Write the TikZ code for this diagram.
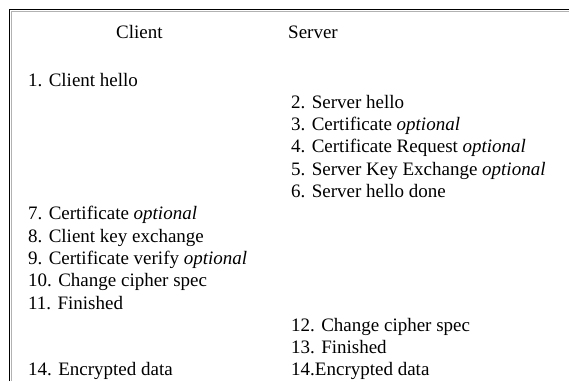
\documentclass[tikz,border=0pt]{standalone}
\usepackage{fontspec}
\setmainfont{Liberation Serif}
\begin{document}
\begin{tikzpicture}[x=1pt,y=-1pt]
\useasboundingbox (0,0) rectangle (569,381);
%frame
\draw[line width=1.5pt] (9.5,381) -- (9.5,9.5) -- (569,9.5);
\draw[gray!60, line width=1pt] (11,381) -- (11,11) -- (569,11);
\begin{scope}[every node/.style={anchor=base west, inner sep=0pt, font=\fontsize{19}{22}\selectfont}]
	%headings
	\node (client) at (116,38) {Client};
	\node (server) at (288,38) {Server};
	%client hello
	\node (m1) at (28,86) {1. Client hello};
	%server side
	\node (m2) at (291,108.3) {2. Server hello};
	\node (m3) at (291,130.6) {3. Certificate \textit{optional}};
	\node (m4) at (291,152.9) {4. Certificate Request \textit{optional}};
	\node (m5) at (291,175.2) {5. Server Key Exchange \textit{optional}};
	\node (m6) at (291,197.5) {6. Server hello done};
	%client side
	\node (m7) at (28,219.8) {7. Certificate \textit{optional}};
	\node (m8) at (28,242.1) {8. Client key exchange};
	\node (m9) at (28,264.4) {9. Certificate verify \textit{optional}};
	\node (m10) at (28,286.7) {10. Change cipher spec};
	\node (m11) at (28,309) {11. Finished};
	%server side
	\node (m12) at (291,331.3) {12. Change cipher spec};
	\node (m13) at (291,353.6) {13. Finished};
	%data
	\node (c14) at (28,375.9) {14. Encrypted data};
	\node (s14) at (291,375.9) {14.Encrypted data};
\end{scope}
\end{tikzpicture}
\end{document}
